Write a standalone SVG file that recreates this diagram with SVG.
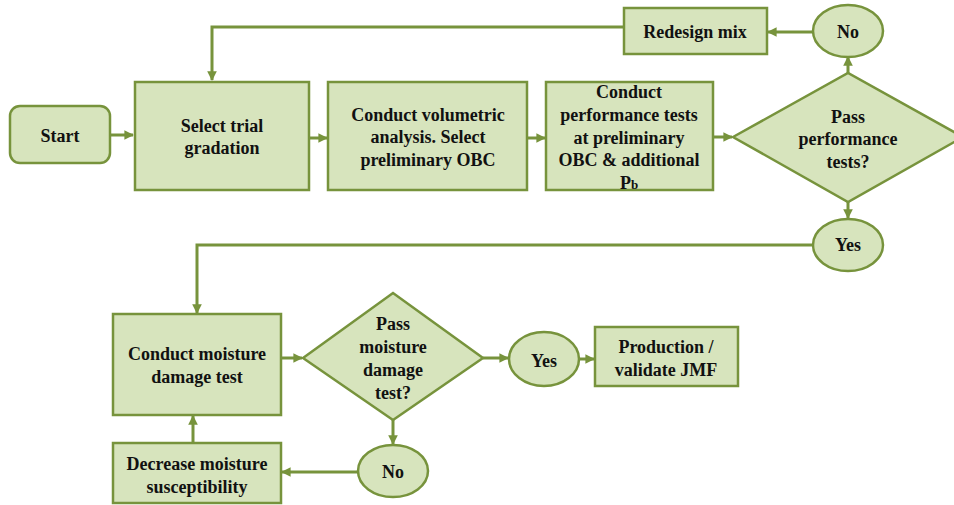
<svg xmlns="http://www.w3.org/2000/svg" width="954" height="505" viewBox="0 0 954 505">
<style>
.n{fill:#d7e4bd;stroke:#77933c;stroke-width:2.5}
.t{font-family:"Liberation Serif","Times New Roman",serif;font-weight:bold;font-size:18px;fill:#111;text-anchor:middle}
.c{fill:none;stroke:#77933c;stroke-width:3}
</style>
<defs>
<marker id="a" viewBox="0 0 10 10" refX="9" refY="5" markerWidth="3.2" markerHeight="3.2" orient="auto" markerUnits="strokeWidth">
<path d="M0,0 L10,5 L0,10 z" fill="#77933c"/>
</marker>
</defs>
<rect width="954" height="505" fill="#fff"/>
<g id="connectors">
<line class="c" x1="111" y1="135" x2="133" y2="135" marker-end="url(#a)"/>
<line class="c" x1="309" y1="138" x2="327" y2="138" marker-end="url(#a)"/>
<line class="c" x1="527" y1="138" x2="545" y2="138" marker-end="url(#a)"/>
<line class="c" x1="713" y1="137" x2="732" y2="137" marker-end="url(#a)"/>
<line class="c" x1="848" y1="73" x2="848" y2="57" marker-end="url(#a)"/>
<line class="c" x1="813" y1="32" x2="768" y2="32" marker-end="url(#a)"/>
<polyline class="c" points="624,27 212,27 212,80" marker-end="url(#a)"/>
<line class="c" x1="848" y1="202" x2="848" y2="218" marker-end="url(#a)"/>
<polyline class="c" points="813,245 197,245 197,313" marker-end="url(#a)"/>
<line class="c" x1="281" y1="358" x2="302" y2="358" marker-end="url(#a)"/>
<line class="c" x1="483" y1="358" x2="508" y2="358" marker-end="url(#a)"/>
<line class="c" x1="579" y1="359" x2="594" y2="359" marker-end="url(#a)"/>
<line class="c" x1="393" y1="420" x2="393" y2="444" marker-end="url(#a)"/>
<line class="c" x1="358" y1="472" x2="282" y2="472" marker-end="url(#a)"/>
<line class="c" x1="193" y1="443" x2="193" y2="416" marker-end="url(#a)"/>
</g>
<g id="start">
<rect class="n" x="10" y="106" width="100" height="57" rx="10"/>
<text class="t" x="60" y="142">Start</text>
</g>
<g id="select">
<rect class="n" x="135" y="82" width="174" height="108"/>
<text class="t" x="222" y="132">Select trial</text>
<text class="t" x="222" y="154">gradation</text>
</g>
<g id="volumetric">
<rect class="n" x="328" y="82" width="199" height="108"/>
<text class="t" x="428" y="121">Conduct volumetric</text>
<text class="t" x="428" y="143">analysis. Select</text>
<text class="t" x="428" y="166">preliminary OBC</text>
</g>
<g id="performance">
<rect class="n" x="546" y="82" width="167" height="108"/>
<text class="t" x="629" y="98">Conduct</text>
<text class="t" x="629" y="121">performance tests</text>
<text class="t" x="629" y="144">at preliminary</text>
<text class="t" x="629" y="166">OBC &amp; additional</text>
<text class="t" x="629" y="189">P<tspan font-size="13">b</tspan></text>
</g>
<g id="pass-performance">
<polygon class="n" points="733,137 848,73 963,137 848,202"/>
<text class="t" x="848" y="123">Pass</text>
<text class="t" x="848" y="145">performance</text>
<text class="t" x="848" y="168">tests?</text>
</g>
<g id="no1">
<ellipse class="n" cx="848" cy="31" rx="35" ry="26"/>
<text class="t" x="848" y="38">No</text>
</g>
<g id="redesign">
<rect class="n" x="624" y="8" width="143" height="46"/>
<text class="t" x="695" y="38">Redesign mix</text>
</g>
<g id="yes1">
<ellipse class="n" cx="848" cy="245" rx="35" ry="26"/>
<text class="t" x="848" y="251">Yes</text>
</g>
<g id="moisture">
<rect class="n" x="113" y="314" width="168" height="101"/>
<text class="t" x="197" y="360">Conduct moisture</text>
<text class="t" x="197" y="383">damage test</text>
</g>
<g id="pass-moisture">
<polygon class="n" points="303,358 393,293 483,358 393,420"/>
<text class="t" x="393" y="330">Pass</text>
<text class="t" x="393" y="353">moisture</text>
<text class="t" x="393" y="376">damage</text>
<text class="t" x="393" y="399">test?</text>
</g>
<g id="yes2">
<ellipse class="n" cx="544" cy="359" rx="35" ry="27"/>
<text class="t" x="544" y="367">Yes</text>
</g>
<g id="production">
<rect class="n" x="595" y="327" width="143" height="59"/>
<text class="t" x="666" y="353">Production /</text>
<text class="t" x="666" y="376">validate JMF</text>
</g>
<g id="no2">
<ellipse class="n" cx="393" cy="471" rx="35" ry="26"/>
<text class="t" x="393" y="478">No</text>
</g>
<g id="decrease">
<rect class="n" x="113" y="443" width="168" height="60"/>
<text class="t" x="197" y="470">Decrease moisture</text>
<text class="t" x="197" y="493">susceptibility</text>
</g>
</svg>
